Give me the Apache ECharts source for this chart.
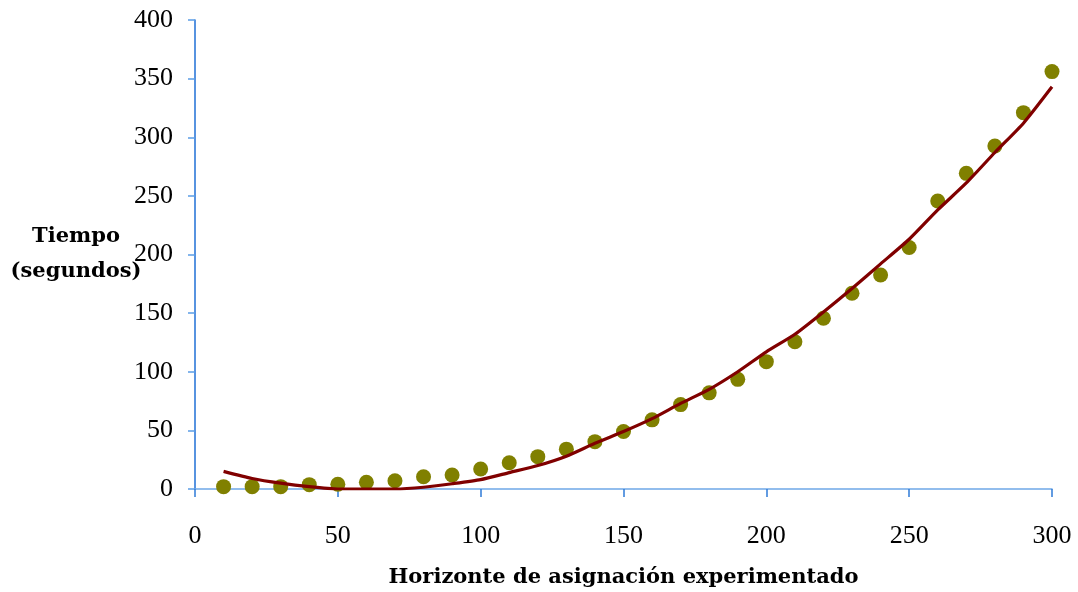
<!DOCTYPE html>
<html>
<head>
<meta charset="utf-8">
<script src="https://cdn.jsdelivr.net/npm/echarts@6/dist/echarts.min.js"></script>
<style>
  html, body { margin: 0; padding: 0; background: #ffffff; }
  #chart { width: 1078px; height: 592px; }
</style>
</head>
<body>
<div id="chart"></div>
<script>
// Planning horizon values (x)
const horizonte = [10, 20, 30, 40, 50, 60, 70, 80, 90, 100,
                   110, 120, 130, 140, 150, 160, 170, 180, 190, 200,
                   210, 220, 230, 240, 250, 260, 270, 280, 290, 300];
// Measured solve times in seconds
const tiempoMedido = [2, 2, 2, 3.7, 4, 5.7, 7, 10.5, 12, 17,
                      22.4, 27.6, 34, 40.4, 49, 59, 72, 82, 93.5, 108.6,
                      125.6, 145.6, 167, 182.5, 206, 245.6, 269.2, 292.5, 321, 356];
// Fitted trend curve
const tiempoTendencia = [15, 9, 5, 2, 0, 0, 0, 1.5, 4.5, 8,
                         14, 20, 28, 39, 49, 60, 73, 85, 100, 117,
                         132, 151, 171, 192, 213, 238, 261, 287, 312, 343];
const ticksX = { min: 0, max: 300, interval: 50 };
const ticksY = { min: 0, max: 400, interval: 50 };

const labelFont = '"Liberation Serif", "DejaVu Serif", serif';
const titleFont = '"DejaVu Serif", "Liberation Serif", serif';

const chart = echarts.init(document.getElementById('chart'), null, { renderer: 'canvas' });
chart.setOption({
  backgroundColor: '#ffffff',
  animation: false,
  grid: { left: 195, right: 26, top: 20, bottom: 103, containLabel: false, outerBoundsMode: 'none' },
  xAxis: {
    type: 'value',
    min: ticksX.min, max: ticksX.max, interval: ticksX.interval,
    name: 'Horizonte de asignación experimentado',
    nameLocation: 'middle',
    nameGap: 89,
    nameMoveOverlap: false,
    nameTextStyle: { fontFamily: titleFont, fontWeight: 'bold', fontSize: 21, color: '#000', verticalAlign: 'middle' },
    axisLine: { show: true, lineStyle: { color: '#6fa8e8', width: 1.5 } },
    axisTick: { show: true, length: 8, lineStyle: { color: '#2f7bd8', width: 1.5 } },
    axisLabel: { fontFamily: labelFont, fontSize: 26, color: '#000', margin: 34 },
    splitLine: { show: false }
  },
  yAxis: {
    type: 'value',
    min: ticksY.min, max: ticksY.max, interval: ticksY.interval,
    name: 'Tiempo\n(segundos)',
    nameLocation: 'middle',
    nameRotate: 0,
    nameGap: 119,
    nameMoveOverlap: false,
    nameTextStyle: { fontFamily: titleFont, fontWeight: 'bold', fontSize: 21, color: '#000', align: 'center', verticalAlign: 'middle', lineHeight: 35, padding: [8, 0, 0, 0] },
    axisLine: { show: true, lineStyle: { color: '#1f6fd6', width: 1.5 } },
    axisTick: { show: true, length: 7, lineStyle: { color: '#5b9de6', width: 1.5 } },
    axisLabel: { fontFamily: labelFont, fontSize: 26, color: '#000', margin: 22 },
    splitLine: { show: false }
  },
  series: [
    {
      name: 'Tiempo medido',
      type: 'scatter',
      data: horizonte.map((x, i) => [x, tiempoMedido[i]]),
      symbol: 'circle',
      symbolSize: 15,
      itemStyle: { color: '#808000', opacity: 1 },
      z: 2
    },
    {
      name: 'Tendencia',
      type: 'line',
      data: horizonte.map((x, i) => [x, tiempoTendencia[i]]),
      showSymbol: false,
      smooth: 0.2,
      lineStyle: { color: '#800000', width: 3.2 },
      z: 3
    }
  ]
});
</script>
</body>
</html>
